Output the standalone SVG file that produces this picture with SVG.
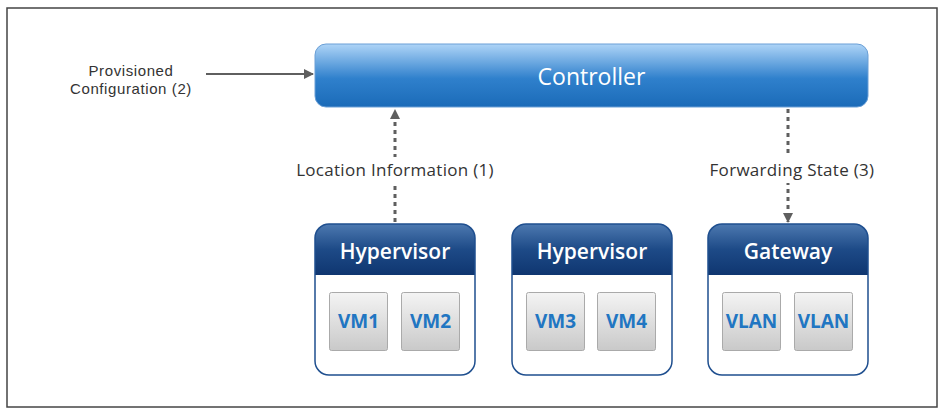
<svg xmlns="http://www.w3.org/2000/svg" width="949" height="415" viewBox="0 0 949 415">
<defs>
<linearGradient id="gCtrl" x1="0" y1="0" x2="0" y2="1">
<stop offset="0" stop-color="#aed4f7"/>
<stop offset="0.55" stop-color="#2f80cc"/>
<stop offset="1" stop-color="#1b6bb8"/>
</linearGradient>
<linearGradient id="gHead" x1="0" y1="0" x2="0" y2="1">
<stop offset="0" stop-color="#4d79b0"/>
<stop offset="0.5" stop-color="#1d4a87"/>
<stop offset="1" stop-color="#0f3670"/>
</linearGradient>
<linearGradient id="gVm" x1="0" y1="0" x2="0" y2="1">
<stop offset="0" stop-color="#f4f4f4"/>
<stop offset="1" stop-color="#c9c9c9"/>
</linearGradient>
<marker id="ah" markerWidth="10" markerHeight="10" refX="9" refY="5" orient="auto" markerUnits="userSpaceOnUse">
<path d="M0,0 L10,5 L0,10 Z" fill="#5f5f5f"/>
</marker>
<clipPath id="c1"><rect x="315" y="224" width="160" height="151" rx="14"/></clipPath>
<clipPath id="c2"><rect x="512" y="224" width="160" height="151" rx="14"/></clipPath>
<clipPath id="c3"><rect x="708" y="224" width="160" height="151" rx="14"/></clipPath>
</defs>
<style>
text{font-family:"Open Sans","Liberation Sans",sans-serif}
.lbl{font-size:17px;fill:#333;text-anchor:middle;letter-spacing:0.3px}
.prov{font-family:"Liberation Sans",Arial,sans-serif;font-size:15px;fill:#333;text-anchor:middle;letter-spacing:0.6px}
.hdr{font-size:21px;fill:#fff;text-anchor:middle;font-weight:600}
.vm{font-size:19px;fill:#2176c2;text-anchor:middle;font-weight:700}
.vmbox{fill:url(#gVm);stroke:#aaa;stroke-width:1}
.outer{fill:none;stroke:#1f4f8f;stroke-width:1.5}
.dot{stroke:#5f5f5f;stroke-width:3;stroke-dasharray:4 4;fill:none}
</style>
<rect x="7" y="8" width="930" height="399" fill="#fff" stroke="#444" stroke-width="1.5"/>
<g id="connectors">
<line x1="206" y1="74" x2="313" y2="74" stroke="#5f5f5f" stroke-width="2" marker-end="url(#ah)"/>
<line class="dot" x1="395" y1="222" x2="395" y2="110" marker-end="url(#ah)"/>
<line class="dot" x1="788" y1="109" x2="788" y2="222" marker-end="url(#ah)"/>
<rect x="288" y="157" width="214" height="26" fill="#fff"/>
<rect x="698" y="157" width="188" height="26" fill="#fff"/>
<text class="lbl" x="395" y="176">Location Information (1)</text>
<text class="lbl" x="792" y="176">Forwarding State (3)</text>
<text class="prov" x="131" y="76">Provisioned</text>
<text class="prov" x="131" y="94">Configuration (2)</text>
</g>
<g id="controller">
<rect x="315" y="44" width="553" height="63" rx="11" fill="url(#gCtrl)" stroke="#6a9fd6" stroke-width="1"/>
<text x="591.500" y="85" font-size="23" fill="#fff" text-anchor="middle">Controller</text>
</g>
<g id="hypervisor1">
<rect x="315" y="224" width="160" height="151" rx="14" fill="#fff"/>
<rect x="315" y="224" width="160" height="51" fill="url(#gHead)" clip-path="url(#c1)"/>
<rect class="outer" x="315" y="224" width="160" height="151" rx="14"/>
<text class="hdr" x="395" y="259">Hypervisor</text>
<rect class="vmbox" x="329.500" y="292.500" width="58" height="58" rx="2"/>
<rect class="vmbox" x="401.500" y="292.500" width="58" height="58" rx="2"/>
<text class="vm" x="358.500" y="328">VM1</text>
<text class="vm" x="430.500" y="328">VM2</text>
</g>
<g id="hypervisor2">
<rect x="512" y="224" width="160" height="151" rx="14" fill="#fff"/>
<rect x="512" y="224" width="160" height="51" fill="url(#gHead)" clip-path="url(#c2)"/>
<rect class="outer" x="512" y="224" width="160" height="151" rx="14"/>
<text class="hdr" x="592" y="259">Hypervisor</text>
<rect class="vmbox" x="526.500" y="292.500" width="58" height="58" rx="2"/>
<rect class="vmbox" x="597.500" y="292.500" width="58" height="58" rx="2"/>
<text class="vm" x="555.500" y="328">VM3</text>
<text class="vm" x="626.500" y="328">VM4</text>
</g>
<g id="gateway">
<rect x="708" y="224" width="160" height="151" rx="14" fill="#fff"/>
<rect x="708" y="224" width="160" height="51" fill="url(#gHead)" clip-path="url(#c3)"/>
<rect class="outer" x="708" y="224" width="160" height="151" rx="14"/>
<text class="hdr" x="788" y="259">Gateway</text>
<rect class="vmbox" x="722.500" y="292.500" width="58" height="58" rx="2"/>
<rect class="vmbox" x="794.500" y="292.500" width="58" height="58" rx="2"/>
<text class="vm" x="751.500" y="328">VLAN</text>
<text class="vm" x="823.500" y="328">VLAN</text>
</g>
</svg>
